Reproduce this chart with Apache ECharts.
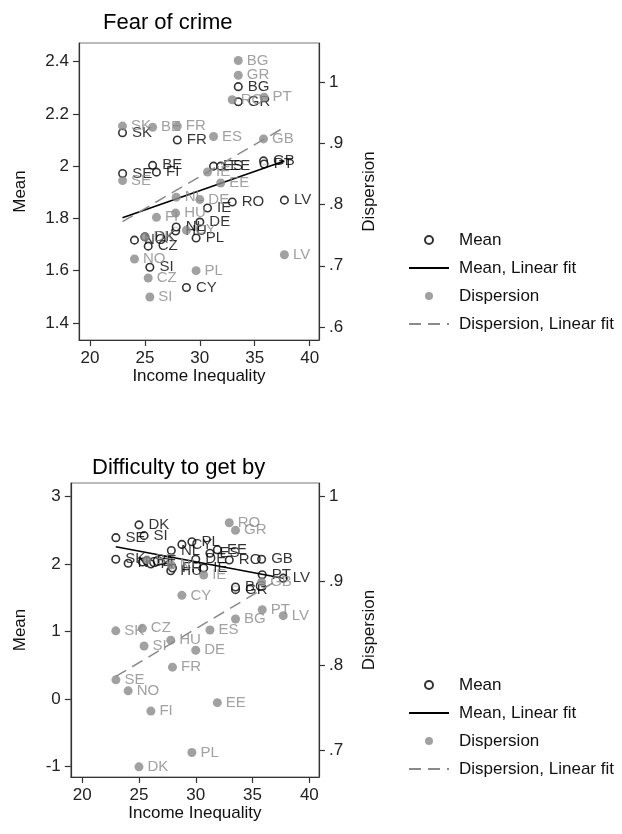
<!DOCTYPE html>
<html>
<head>
<meta charset="utf-8">
<script src="https://cdn.jsdelivr.net/npm/echarts@6/dist/echarts.min.js"></script>
<style>html,body{margin:0;padding:0;background:#fff;}#c{width:622px;height:834px;}</style>
</head>
<body>
<div id="c"></div>
<script>
// ---- data ----
const countries = ['SE','SK','NO','DK','CZ','SI','BE','FI','HU','NL','FR','CY','PL','DE','IE','ES','EE','RO','GR','BG','GB','PT','LV'];
const incomeInequality = [22.97,22.96,24.05,25.0,25.3,25.45,25.7,26.05,27.8,27.85,27.95,28.78,29.66,30.0,30.7,31.25,31.9,32.95,33.5,33.5,35.8,35.85,37.7];
// Fear of crime
const fearMean = [1.972,2.128,1.717,1.73,1.694,1.613,2.003,1.977,1.752,1.767,2.100,1.536,1.725,1.786,1.840,2.0,2.0,1.863,2.246,2.304,2.02,2.008,1.870];
const fearDisp = [0.839,0.928,0.711,0.747,0.680,0.649,0.926,0.779,0.786,0.812,0.928,0.758,0.692,0.808,0.853,0.911,0.835,0.971,1.011,1.035,0.907,0.975,0.718];
const fearMeanFit = [[22.96,1.803],[37.7,2.02]];
const fearDispFit = [[22.96,0.772],[37.7,0.926]];
// Difficulty to get by
const diffMean = [2.39,2.07,2.01,2.58,2.03,2.42,2.05,2.0,1.90,2.20,1.94,2.29,2.33,2.07,1.94,2.16,2.21,2.06,1.62,1.66,2.07,1.84,1.79];
const diffDisp = [0.783,0.841,0.770,0.680,0.844,0.823,0.925,0.746,0.830,0.919,0.798,0.883,0.697,0.818,0.907,0.842,0.756,0.969,0.960,0.855,0.899,0.866,0.859];
const diffMeanFit = [[22.96,2.256],[37.7,1.788]];
const diffDispFit = [[22.96,0.787],[37.7,0.905]];
// ticks
const xTicks = [20,25,30,35,40];
const fearMeanTicks = [1.4,1.6,1.8,2,2.2,2.4];
const fearDispTicks = [0.6,0.7,0.8,0.9,1];
const diffMeanTicks = [-1,0,1,2,3];
const diffDispTicks = [0.7,0.8,0.9,1];
const legendNames = ['Mean','Mean, Linear fit','Dispersion','Dispersion, Linear fit'];

// ---- chart ----
const FONT = '"Liberation Sans", Arial, sans-serif';
const GRAY = '#8a8a8a';
const fmt = v => { let s = String(+v.toFixed(2)); return s.replace(/^0\./,'.').replace(/^-0\./,'-.'); };

function pts(xs, ys){ return countries.map((c,i)=>({name:c, value:[xs[i], ys[i]]})); }

function axisCommon(ticks){
  return {
    type:'value', splitLine:{show:false},
    axisLine:{show:true, onZero:false, lineStyle:{color:'#333', width:1.2}},
    axisTick:{show:true, length:6, customValues:ticks, lineStyle:{color:'#333', width:1.2}},
    axisLabel:{customValues:ticks, formatter:fmt, fontSize:17, color:'#222', fontFamily:FONT, margin:10},
    nameTextStyle:{fontSize:17, color:'#111', fontFamily:FONT}
  };
}

function xAx(grid){
  return Object.assign(axisCommon(xTicks), {gridIndex:grid, min:19.0, max:40.85,
    name:'Income Inequality', nameLocation:'middle', nameGap:28});
}
function yAx(grid, pos, min, max, ticks, name, gap){
  return Object.assign(axisCommon(ticks), {gridIndex:grid, position:pos, min:min, max:max,
    name:name, nameLocation:'middle', nameRotate:90, nameGap:gap});
}

function seriesFor(g, mean, disp, meanFit, dispFit){
  const xi = g, yi = g*2;
  return [
    {name:'Mean', type:'scatter', xAxisIndex:xi, yAxisIndex:yi, data:pts(incomeInequality, mean),
      symbol:'circle', symbolSize:7.5, z:2,
      itemStyle:{color:'#fff', borderColor:'#000', borderWidth:1.6},
      label:{show:true, position:'right', distance:5, formatter:'{b}', fontSize:15, color:'#000', fontFamily:FONT}},
    {name:'Mean, Linear fit', type:'line', xAxisIndex:xi, yAxisIndex:yi, data:meanFit,
      symbol:'none', z:3, color:'#000', lineStyle:{color:'#000', width:1.6}},
    {name:'Dispersion', type:'scatter', xAxisIndex:xi, yAxisIndex:yi+1, data:pts(incomeInequality, disp),
      symbol:'circle', symbolSize:9, z:4,
      itemStyle:{color:GRAY},
      label:{show:true, position:'right', distance:4, formatter:'{b}', fontSize:15, color:GRAY, fontFamily:FONT}},
    {name:'Dispersion, Linear fit', type:'line', xAxisIndex:xi, yAxisIndex:yi+1, data:dispFit,
      symbol:'none', z:5, color:GRAY, lineStyle:{color:GRAY, width:1.5, type:[12,7]}}
  ];
}

function legendAt(top){
  return {
    data:[
      {name:legendNames[0]},
      {name:legendNames[1], itemStyle:{opacity:0}},
      {name:legendNames[2]},
      {name:legendNames[3], itemStyle:{opacity:0}}
    ],
    orient:'vertical', left:403, top:top, itemWidth:40, itemHeight:8, itemGap:8,
    selectedMode:false, textStyle:{fontSize:17, lineHeight:20, color:'#111', fontFamily:FONT, padding:[0,0,0,5]}};
}

const chart = echarts.init(document.getElementById('c'), null, {renderer:'canvas'});
chart.setOption({
  animation:false,
  backgroundColor:'#fff',
  textStyle:{fontFamily:FONT},
  title:[
    {text:'Fear of crime', left:98, top:7, textStyle:{fontSize:22, fontWeight:'normal', color:'#000', fontFamily:FONT}},
    {text:'Difficulty to get by', left:87, top:452, textStyle:{fontSize:22, fontWeight:'normal', color:'#000', fontFamily:FONT}}
  ],
  legend:[legendAt(225), legendAt(670)],
  grid:[
    {left:79, top:43, width:240, height:297, show:true, borderColor:'#777', borderWidth:1, backgroundColor:'transparent'},
    {left:70.8, top:483, width:248.2, height:294, show:true, borderColor:'#777', borderWidth:1, backgroundColor:'transparent'}
  ],
  xAxis:[xAx(0), xAx(1)],
  yAxis:[
    yAx(0,'left',1.335,2.471,fearMeanTicks,'Mean',50),
    yAx(0,'right',0.5788,1.0636,fearDispTicks,'Dispersion',42),
    yAx(1,'left',-1.156,3.2,diffMeanTicks,'Mean',42),
    yAx(1,'right',0.668,1.016,diffDispTicks,'Dispersion',42)
  ],
  series:[].concat(
    seriesFor(0, fearMean, fearDisp, fearMeanFit, fearDispFit),
    seriesFor(1, diffMean, diffDisp, diffMeanFit, diffDispFit)
  )
});
</script>
</body>
</html>
